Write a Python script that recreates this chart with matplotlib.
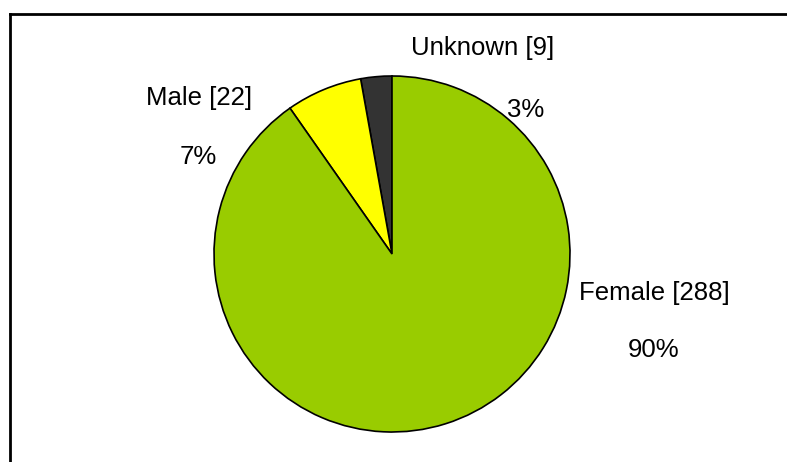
import matplotlib.pyplot as plt
from matplotlib.lines import Line2D

plt.rcParams['font.family'] = ['Liberation Sans', 'DejaVu Sans']

# data (pie goes counterclockwise from the top)
categories = ['Unknown', 'Male', 'Female']
counts = [9, 22, 288]
colors = ['#333333', '#FFFF00', '#99CC00']

W, H = 787, 462
fig = plt.figure(figsize=(W / 100, H / 100), dpi=100)
ax = fig.add_axes([0, 0, 1, 1])

ax.pie(counts, colors=colors, startangle=90, counterclock=True,
       center=(392, H - 254), radius=178,
       wedgeprops=dict(edgecolor='black', linewidth=1.2))
ax.set_xlim(0, W)
ax.set_ylim(0, H)
ax.set_aspect('auto')
ax.axis('off')

total = sum(counts)
# label spots in pixels (left, baseline) measured on the picture
name_pos = {'Unknown': (411, 55), 'Male': (146, 105), 'Female': (579, 300)}
pct_pos = {'Unknown': (507, 117), 'Male': (180, 164), 'Female': (628, 357)}
for c, n in zip(categories, counts):
    x, y = name_pos[c]
    ax.text(x, H - y, f'{c} [{n}]', fontsize=18.5, ha='left', va='baseline')
    x, y = pct_pos[c]
    ax.text(x, H - y, f'{round(100 * n / total)}%', fontsize=18.5,
            ha='left', va='baseline')

# frame of the chart area (only top and left are visible)
fig.add_artist(Line2D([9.5 / W, 9.5 / W], [0, 1 - 13.5 / H], color='black',
                      linewidth=2, transform=fig.transFigure))
fig.add_artist(Line2D([9.5 / W, 1], [1 - 13.5 / H, 1 - 13.5 / H], color='black',
                      linewidth=2, transform=fig.transFigure))

fig.savefig('out.png', dpi=100)
